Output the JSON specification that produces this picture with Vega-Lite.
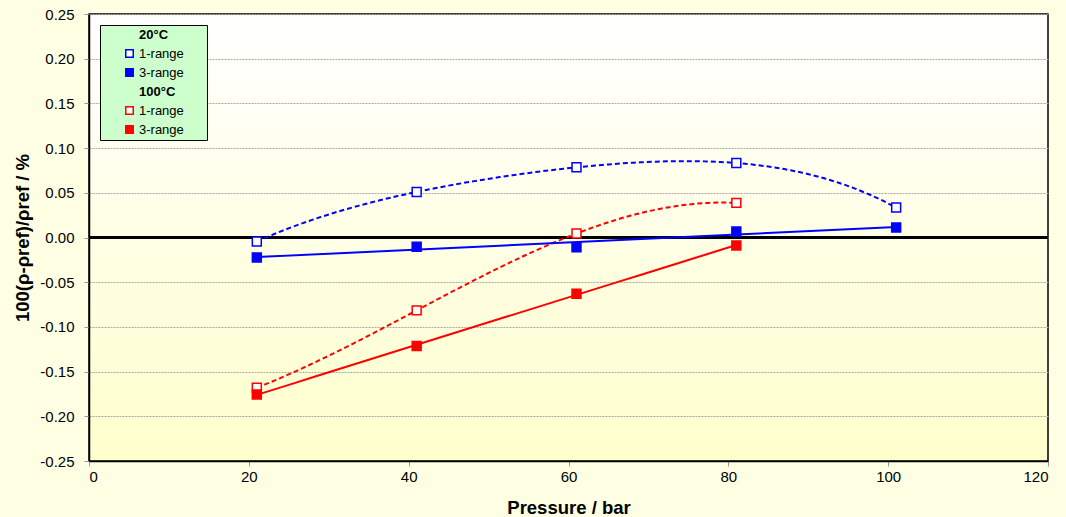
{
  "$schema": "https://vega.github.io/schema/vega-lite/v6.json",
  "width": 959,
  "height": 447,
  "autosize": {"type": "none"},
  "padding": {"left": 89, "top": 14, "right": 18, "bottom": 56},
  "background": "#FFFFE4",
  "view": {
    "stroke": "#000000",
    "strokeWidth": 1.5,
    "fill": {"gradient": "linear", "x1": 0, "y1": 0, "x2": 0, "y2": 1, "stops": [{"offset": 0, "color": "#FFFFFF"}, {"offset": 1, "color": "#FFFFCC"}]}
  },
  "config": {
    "font": "Liberation Sans",
    "axis": {"labelFont": "Liberation Sans", "titleFont": "Liberation Sans", "labelFontSize": 15, "titleFontSize": 18.5, "titleFontWeight": "bold", "labelColor": "#000000", "titleColor": "#000000", "domainColor": "#000000", "domainWidth": 1.5, "tickColor": "#999999", "tickSize": 5}
  },
  "datasets": {
    "pts": [
      {"p": 21, "v": -0.0045, "key": "a20"},
      {"p": 41, "v": 0.0510, "key": "a20"},
      {"p": 61, "v": 0.0785, "key": "a20"},
      {"p": 81, "v": 0.0833, "key": "a20"},
      {"p": 101, "v": 0.0335, "key": "a20"},
      {"p": 21, "v": -0.0223, "key": "b20"},
      {"p": 41, "v": -0.0104, "key": "b20"},
      {"p": 61, "v": -0.0108, "key": "b20"},
      {"p": 81, "v": 0.0067, "key": "b20"},
      {"p": 101, "v": 0.0112, "key": "b20"},
      {"p": 21, "v": -0.1680, "key": "a100"},
      {"p": 41, "v": -0.0815, "key": "a100"},
      {"p": 61, "v": 0.0045, "key": "a100"},
      {"p": 81, "v": 0.0387, "key": "a100"},
      {"p": 21, "v": -0.1756, "key": "b100"},
      {"p": 41, "v": -0.1213, "key": "b100"},
      {"p": 61, "v": -0.0629, "key": "b100"},
      {"p": 81, "v": -0.0089, "key": "b100"}
    ]
  },
  "data": {"name": "pts"},
  "encoding": {
    "x": {
      "field": "p", "type": "quantitative",
      "scale": {"domain": [0, 120], "nice": false, "zero": false},
      "axis": {"values": [0, 20, 40, 60, 80, 100, 120], "grid": false, "title": "Pressure / bar", "labelPadding": 3, "titlePadding": 14}
    },
    "y": {
      "field": "v", "type": "quantitative",
      "scale": {"domain": [-0.25, 0.25], "nice": false, "zero": false},
      "axis": {
        "values": [-0.25, -0.2, -0.15, -0.1, -0.05, 0, 0.05, 0.1, 0.15, 0.2, 0.25],
        "labelExpr": "replace(format(datum.value, '.2f'), '\u2212', '-')",
        "grid": true, "gridColor": "#a8a8a8", "gridDash": [2, 1], "gridWidth": 1,
        "title": "100(ρ-ρref)/ρref / %", "labelPadding": 10, "titlePadding": 7
      }
    }
  },
  "layer": [
    {
      "mark": {"type": "rule", "color": "#000000", "strokeWidth": 1.5},
      "encoding": {"y": {"datum": 0}, "x": null}
    },
    {
      "transform": [{"filter": "datum.key == 'a20'"}, {"regression": "v", "on": "p", "method": "poly", "order": 4}],
      "mark": {"type": "line", "color": "#0000FF", "strokeWidth": 2, "strokeDash": [5, 3]}
    },
    {
      "transform": [{"filter": "datum.key == 'a100'"}, {"regression": "v", "on": "p", "method": "poly", "order": 3}],
      "mark": {"type": "line", "color": "#FF0000", "strokeWidth": 2, "strokeDash": [5, 3]}
    },
    {
      "transform": [{"filter": "datum.key == 'b20'"}, {"regression": "v", "on": "p", "method": "linear"}],
      "mark": {"type": "line", "color": "#0000FF", "strokeWidth": 2}
    },
    {
      "transform": [{"filter": "datum.key == 'b100'"}, {"regression": "v", "on": "p", "method": "poly", "order": 2}],
      "mark": {"type": "line", "color": "#FF0000", "strokeWidth": 2}
    },
    {
      "mark": {"type": "square", "size": 80, "strokeWidth": 1.5, "opacity": 1},
      "encoding": {
        "fill": {
          "field": "key", "type": "nominal",
          "scale": {"domain": ["h20", "a20", "b20", "h100", "a100", "b100"], "range": ["transparent", "#FFFFFF", "#0000FF", "transparent", "#FFFFFF", "#FF0000"]},
          "legend": {
            "title": null, "orient": "top-left", "offset": 11,
            "fillColor": "#CCFFCC", "strokeColor": "#000000",
            "padding": 3, "symbolOffset": 20, "symbolType": "square", "symbolSize": 56, "symbolStrokeWidth": 1.5,
            "labelFont": "Liberation Sans", "labelFontSize": 13, "labelColor": "#000000", "labelOffset": 3,
            "rowPadding": 4,
            "labelFontWeight": {"expr": "datum.value[0] == 'h' ? 'bold' : 'normal'"},
            "labelExpr": "datum.value == 'h20' ? '20°C' : datum.value == 'h100' ? '100°C' : (datum.value[0] == 'a' ? '1-range\u2800\u2800' : '3-range\u2800\u2800')"
          }
        },
        "stroke": {
          "field": "key", "type": "nominal",
          "scale": {"domain": ["h20", "a20", "b20", "h100", "a100", "b100"], "range": ["transparent", "#0000FF", "#0000FF", "transparent", "#FF0000", "#FF0000"]},
          "legend": {
            "title": null, "orient": "top-left", "offset": 11,
            "fillColor": "#CCFFCC", "strokeColor": "#000000",
            "padding": 3, "symbolOffset": 20, "symbolType": "square", "symbolSize": 56, "symbolStrokeWidth": 1.5,
            "labelFont": "Liberation Sans", "labelFontSize": 13, "labelColor": "#000000", "labelOffset": 3,
            "rowPadding": 4,
            "labelFontWeight": {"expr": "datum.value[0] == 'h' ? 'bold' : 'normal'"},
            "labelExpr": "datum.value == 'h20' ? '20°C' : datum.value == 'h100' ? '100°C' : (datum.value[0] == 'a' ? '1-range\u2800\u2800' : '3-range\u2800\u2800')"
          }
        }
      }
    }
  ]
}
